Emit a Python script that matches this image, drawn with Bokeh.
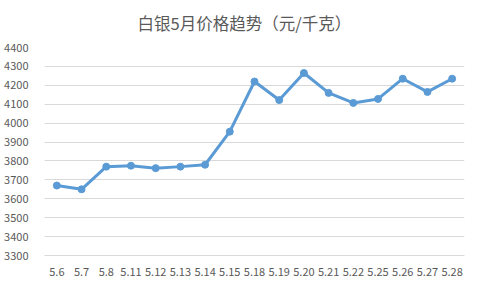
from bokeh.plotting import figure
from bokeh.models import Range1d, FactorRange, SingleIntervalTicker, Title
from bokeh.embed import file_html
from bokeh.resources import INLINE

dates = ["5.6", "5.7", "5.8", "5.11", "5.12", "5.13", "5.14", "5.15", "5.18",
         "5.19", "5.20", "5.21", "5.22", "5.25", "5.26", "5.27", "5.28"]
prices = [3670, 3650, 3770, 3775, 3762, 3770, 3780, 3955, 4220,
          4122, 4265, 4160, 4107, 4128, 4235, 4165, 4235]

TXT = "#595959"
FONT = "Noto Sans CJK SC"

p = figure(width=480, height=287, output_backend="svg", toolbar_location=None,
           x_range=FactorRange(factors=dates, range_padding=0),
           y_range=Range1d(3300, 4400),
           min_border_left=44, min_border_right=16, min_border_top=46, min_border_bottom=32)
p.title = Title(text="白银5月价格趋势（元/千克）", align="left",
                text_font=FONT, text_font_size="16.5px", text_color=TXT,
                text_font_style="normal", offset=93, standoff=21,
                vertical_align="top")
p.outline_line_color = None
p.background_fill_color = "white"
p.border_fill_color = "white"

p.yaxis.ticker = SingleIntervalTicker(interval=100)
p.yaxis.axis_line_color = None
p.yaxis.major_tick_line_color = None
p.yaxis.minor_tick_line_color = None
p.yaxis.major_label_text_font = FONT
p.yaxis.major_label_text_font_size = "11px"
p.yaxis.major_label_text_color = TXT
p.yaxis.major_label_standoff = 10

p.xaxis.axis_line_color = "#d9d9d9"
p.xaxis.major_tick_line_color = None
p.xaxis.minor_tick_line_color = None
p.xaxis.major_label_text_font = FONT
p.xaxis.major_label_text_font_size = "11px"
p.xaxis.major_label_text_color = TXT
p.xaxis.major_label_standoff = 6

p.xgrid.grid_line_color = None
p.ygrid.grid_line_color = "#d9d9d9"
p.ygrid.grid_line_width = 1

p.line(dates, prices, line_color="#5b9bd5", line_width=3)
p.scatter(dates, prices, size=7, fill_color="#5b9bd5", line_color="#5b9bd5")

open("out.html", "w").write(file_html(p, INLINE))
